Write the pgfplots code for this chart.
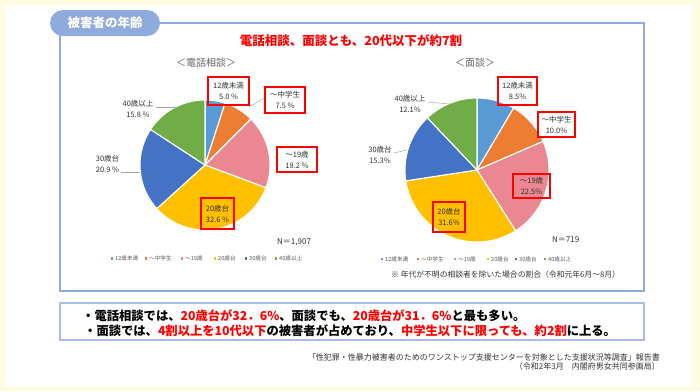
\documentclass[border=0pt]{standalone}
\usepackage{pgfplots}
\usepackage{pgfplotstable}
\pgfplotsset{compat=1.18}
\usepgfplotslibrary{polar}
\usepackage{fontspec}
\setmainfont{Noto Sans CJK JP}

\definecolor{bgy}{HTML}{FFFAE0}
\definecolor{tabblue}{HTML}{8FAADC}
\definecolor{boxblue}{HTML}{A9BFE6}
\definecolor{c1}{HTML}{5B9BD5}
\definecolor{c2}{HTML}{ED7D31}
\definecolor{c3}{HTML}{EA8790}
\definecolor{c4}{HTML}{FFC000}
\definecolor{c5}{HTML}{4472C4}
\definecolor{c6}{HTML}{70AD47}
\definecolor{lbl}{HTML}{333333}
\definecolor{leader}{HTML}{A6A6A6}
\definecolor{jred}{HTML}{FF0000}

% percentages: 12歳未満, ～中学生, ～19歳, 20歳台, 30歳台, 40歳以上
\pgfplotstableread{
grp pct
a 5.0
b 7.5
c 18.2
d 32.6
e 20.9
f 15.8
}\teldata
\pgfplotstableread{
grp pct
a 8.5
b 10.0
c 22.5
d 31.6
e 15.3
f 12.1
}\mendata

\newcommand\getpct[3]{\pgfplotstablegetelem{#2}{pct}\of{#1}\global\let#3\pgfplotsretval}
\getpct\teldata{0}\TelA \getpct\teldata{1}\TelB \getpct\teldata{2}\TelC
\getpct\teldata{3}\TelD \getpct\teldata{4}\TelE \getpct\teldata{5}\TelF
\getpct\mendata{0}\MenA \getpct\mendata{1}\MenB \getpct\mendata{2}\MenC
\getpct\mendata{3}\MenD \getpct\mendata{4}\MenE \getpct\mendata{5}\MenF

% boundary angles (start at 12 o'clock, clockwise)
\pgfmathsetmacro\Ta{90}
\pgfmathsetmacro\Tb{\Ta-3.6*\TelA}
\pgfmathsetmacro\Tc{\Tb-3.6*\TelB}
\pgfmathsetmacro\Td{\Tc-3.6*\TelC}
\pgfmathsetmacro\Te{\Td-3.6*\TelD}
\pgfmathsetmacro\Tf{\Te-3.6*\TelE}
\pgfmathsetmacro\Tg{\Tf-3.6*\TelF}
\pgfmathsetmacro\Ma{90}
\pgfmathsetmacro\Mb{\Ma-3.6*\MenA}
\pgfmathsetmacro\Mc{\Mb-3.6*\MenB}
\pgfmathsetmacro\Md{\Mc-3.6*\MenC}
\pgfmathsetmacro\Me{\Md-3.6*\MenD}
\pgfmathsetmacro\Mf{\Me-3.6*\MenE}
\pgfmathsetmacro\Mg{\Mf-3.6*\MenF}

\newcommand\slice[3]{\addplot[fill=#1, draw=white, line width=1.1pt, line join=round, domain=#2:#3, samples=50] {1} -- (axis cs:0,0) -- cycle;}
\newcommand\fs[1]{\fontsize{#1}{#1}\selectfont}

\begin{document}
\begin{tikzpicture}[x=1pt,y=-1pt]
\fill[bgy] (0,0) rectangle (700,391);
\fill[white] (5,5) rectangle (691,387);
% frame
\draw[tabblue, line width=1.2pt] (150,23) -- (644,23) -- (644,291) -- (60,291) -- (60,30);
\fill[tabblue] (50,10) [rounded corners=13pt] rectangle (160,36);
\node[text=white, font=\bfseries\fs{12.5}] at (105,23) {被害者の年齢};
\node[text=jred, font=\bfseries\fs{12.5}] at (351,41) {電話相談、面談とも、20代以下が約7割};
\node[text=black!60, font=\fs{10}] at (206,63) {＜電話相談＞};
\node[text=black!60, font=\fs{10}] at (475,63) {＜面談＞};

% left pie
\begin{polaraxis}[at={(205pt,-165pt)}, anchor=center, hide axis, scale only axis,
  width=130pt, height=130pt, xmin=0, xmax=360, ymin=0, ymax=1, clip=false]
\slice{c1}{\Tb}{\Ta}
\slice{c2}{\Tc}{\Tb}
\slice{c3}{\Td}{\Tc}
\slice{c4}{\Te}{\Td}
\slice{c5}{\Tf}{\Te}
\slice{c6}{\Tg}{\Tf}
\end{polaraxis}

% right pie
\begin{polaraxis}[at={(477pt,-170pt)}, anchor=center, hide axis, scale only axis,
  width=144pt, height=144pt, xmin=0, xmax=360, ymin=0, ymax=1, clip=false]
\slice{c1}{\Mb}{\Ma}
\slice{c2}{\Mc}{\Mb}
\slice{c3}{\Md}{\Mc}
\slice{c4}{\Me}{\Md}
\slice{c5}{\Mf}{\Me}
\slice{c6}{\Mg}{\Mf}
\end{polaraxis}

% leader lines
\begin{scope}[leader, line width=0.5pt]
\draw (156,107) -- (175,107);
\draw (121,172) -- (140,172);
\draw (264,98) -- (249,107);
\draw (428,102) -- (450,104);
\draw (394,153) -- (407,150);
\end{scope}

% labels
\tikzset{rb/.style={draw=jred, line width=1.4pt, inner sep=0pt, align=center, text=lbl,
  font=\fs{7.5}\linespread{1.45}\selectfont}}
\node[rb, minimum width=41pt, minimum height=28pt] at (228.5,91) {12歳未満\\5.0 \%};
\node[rb, minimum width=40pt, minimum height=26pt] at (285,100) {～中学生\\7.5 \%};
\node[rb, minimum width=40pt, minimum height=25pt] at (297,159.5) {～19歳\\18.2 \%};
\node[rb, minimum width=33pt, minimum height=31pt] at (217.5,213.5) {20歳台\\32.6 \%};
\node[rb, minimum width=39pt, minimum height=28pt] at (517.5,91) {12歳未満\\8.5\%};
\node[rb, minimum width=37pt, minimum height=25pt] at (556.5,124.5) {～中学生\\10.0\%};
\node[rb, minimum width=37pt, minimum height=24pt] at (531.5,186) {～19歳\\22.5\%};
\node[rb, minimum width=32pt, minimum height=30pt] at (449,217) {20歳台\\31.6\%};
\tikzset{pl/.style={inner sep=0pt, align=center, text=lbl, font=\fs{7.5}\linespread{1.45}\selectfont}}
\node[pl] at (138,108.5) {40歳以上\\15.8 \%};
\node[pl] at (107.5,164) {30歳台\\20.9 \%};
\node[pl] at (410,104) {40歳以上\\12.1\%};
\node[pl] at (380,155) {30歳台\\15.3\%};

\node[anchor=west, text=lbl, font=\fs{8}, inner sep=0pt] at (277,242) {N＝1,907};
\node[anchor=west, text=lbl, font=\fs{8}, inner sep=0pt] at (552,240) {N＝719};

% legends
\tikzset{lg/.style={anchor=west, inner sep=0pt, text=black!65, font=\fs{5.6}}}
\foreach \x/\c/\t in {112/c1/12歳未満, 146/c2/～中学生, 182/c3/～19歳, 215/c4/20歳台, 246/c5/30歳台, 276/c6/40歳以上}{
  \fill[\c] (\x-1.2,257.3) rectangle (\x+1.2,259.7);
  \node[lg] at (\x+3,258.5) {\t};
}
\foreach \x/\c/\t in {382/c1/12歳未満, 418/c2/～中学生, 455/c3/～19歳, 488/c4/20歳台, 516/c5/30歳台, 545/c6/40歳以上}{
  \fill[\c] (\x-1.2,257.8) rectangle (\x+1.2,260.2);
  \node[lg] at (\x+3,259) {\t};
}
\node[anchor=west, inner sep=0pt, text=lbl, font=\fs{7.8}] at (391,275) {※ 年代が不明の相談者を除いた場合の割合（令和元年6月～8月）};

% summary box
\draw[boxblue, line width=1.2pt, fill=white] (60,303) rectangle (644,340);
\node[anchor=west, inner sep=0pt, font=\bfseries\fs{12.3}] at (82,315.5)
  {・電話相談では、\textcolor{jred}{20歳台が32．6\%}、面談でも、\textcolor{jred}{20歳台が31．6\%}と最も多い。};
\node[anchor=west, inner sep=0pt, font=\bfseries\fs{12.3}] at (84,330.5)
  {・面談では、\textcolor{jred}{4割以上を10代以下}の被害者が占めており、\textcolor{jred}{中学生以下に限っても、約2割}に上る。};

% source
\node[anchor=east, inner sep=0pt, text=lbl, font=\fs{8}] at (660,357.5)
  {「性犯罪・性暴力被害者のためのワンストップ支援センターを対象とした支援状況等調査」報告書};
\node[anchor=east, inner sep=0pt, text=lbl, font=\fs{8}] at (660,366.8)
  {（令和2年3月　内閣府男女共同参画局）};
\end{tikzpicture}
\end{document}
